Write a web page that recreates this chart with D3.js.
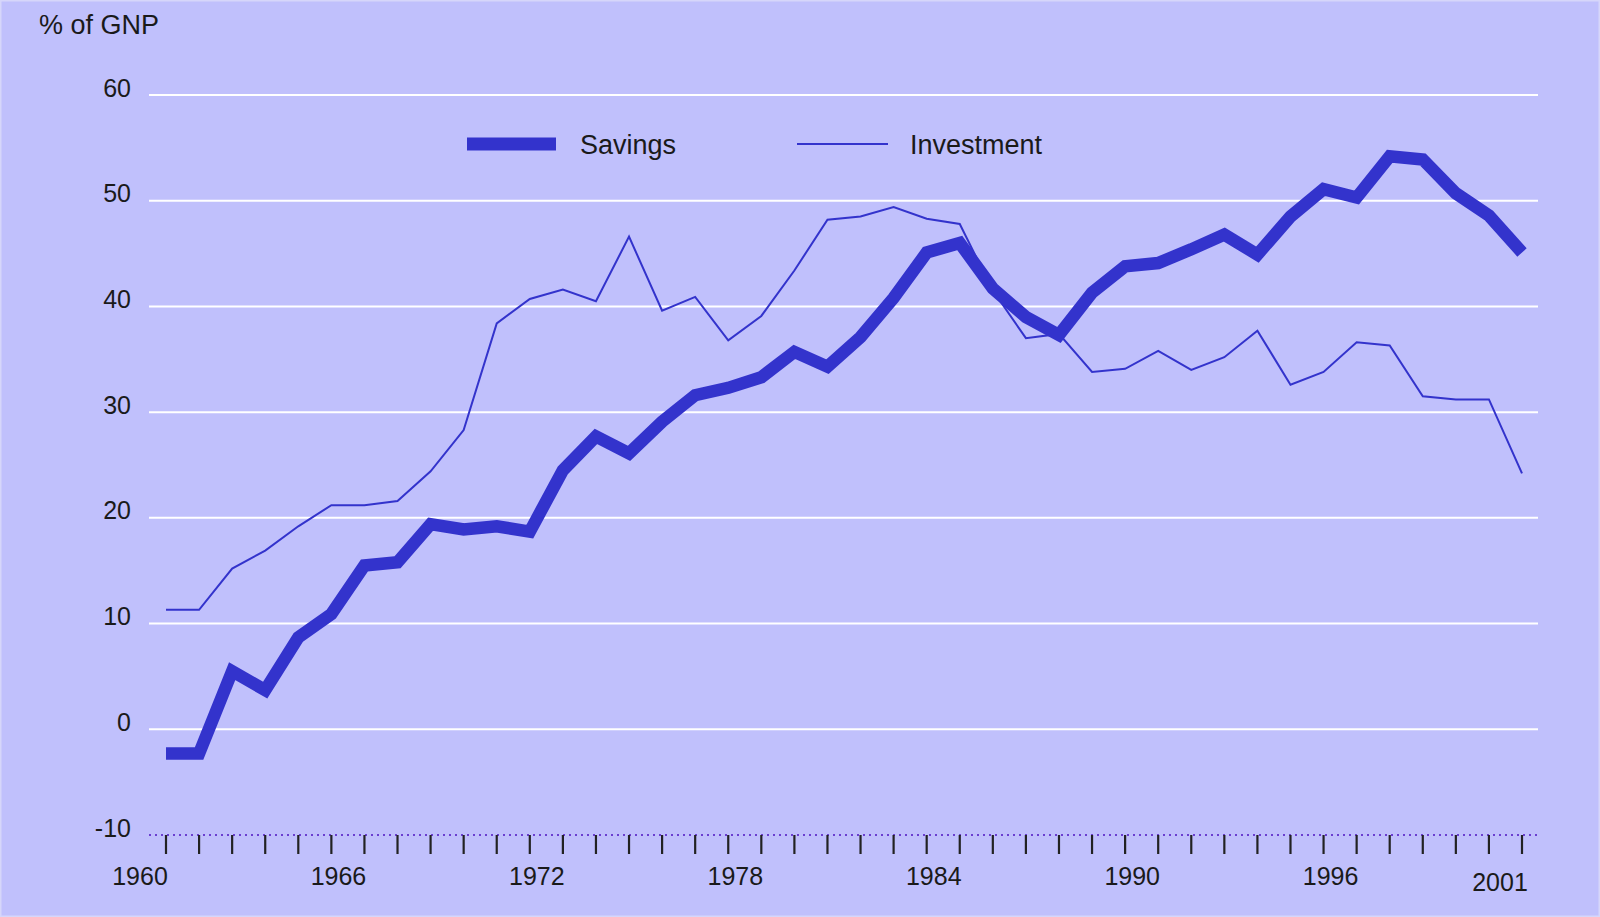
<!DOCTYPE html>
<html>
<head>
<meta charset="utf-8">
<script src="https://cdn.jsdelivr.net/npm/d3@7/dist/d3.min.js"></script>
<style>
  html, body { margin: 0; padding: 0; background: #C0C0FC; }
  svg { display: block; }
  text { font-family: "Liberation Sans", Arial, sans-serif; fill: #1a1a1a; }
</style>
</head>
<body>
<svg id="chart" width="1600" height="917"></svg>
<script>
// ---- data ----
const years = d3.range(1960, 2002);
const savings = [
  -2.3, -2.3, 5.5, 3.7, 8.7, 10.9, 15.5, 15.8, 19.4, 18.9,
  19.2, 18.7, 24.5, 27.7, 26.1, 29.1, 31.6, 32.3, 33.3, 35.7,
  34.3, 37.1, 40.8, 45.1, 46.0, 41.7, 39.0, 37.3, 41.3, 43.8,
  44.1, 45.4, 46.8, 44.9, 48.5, 51.1, 50.3, 54.2, 53.9, 50.7,
  48.6, 45.1
];
const investment = [
  11.3, 11.3, 15.2, 16.9, 19.2, 21.2, 21.2, 21.6, 24.4, 28.3,
  38.4, 40.7, 41.6, 40.5, 46.6, 39.6, 40.9, 36.8, 39.1, 43.4,
  48.2, 48.5, 49.4, 48.3, 47.8, 41.5, 37.0, 37.4, 33.8, 34.1,
  35.8, 34.0, 35.2, 37.7, 32.6, 33.8, 36.6, 36.3, 31.5, 31.2,
  31.2, 24.2
];
const yTicks = [-10, 0, 10, 20, 30, 40, 50, 60];
const xLabels = [1960, 1966, 1972, 1978, 1984, 1990, 1996, 2001];
const seriesNames = ["Savings", "Investment"];
const yTitle = "% of GNP";

// ---- layout ----
const W = 1600, H = 917;
const lineColor = "#3333CC";
const svg = d3.select("#chart");

svg.append("rect").attr("x", 0.5).attr("y", 0.5).attr("width", W - 1).attr("height", H - 1)
  .attr("fill", "#C0C0FC").attr("stroke", "#D6D6FA").attr("stroke-width", 2);

const x = d3.scaleLinear().domain([1960, 2001]).range([166, 1522]);
const y = d3.scaleLinear().domain([-10, 60]).range([835, 95]);
const gridX0 = 149, gridX1 = 1538;

// gridlines
svg.append("g").selectAll("line").data(yTicks.filter(d => d > -10)).join("line")
  .attr("x1", gridX0).attr("x2", gridX1)
  .attr("y1", d => y(d)).attr("y2", d => y(d))
  .attr("stroke", "#FFFFFF").attr("stroke-width", 2);

// y tick labels
svg.append("g").selectAll("text").data(yTicks).join("text")
  .attr("x", 131).attr("y", d => y(d) - 5)
  .attr("text-anchor", "end").attr("dominant-baseline", "middle")
  .attr("font-size", 25)
  .text(d => d);

// bottom dotted axis line
svg.append("line")
  .attr("x1", gridX0).attr("x2", gridX1)
  .attr("y1", y(-10)).attr("y2", y(-10))
  .attr("stroke", "#6A3FD0").attr("stroke-width", 2)
  .attr("stroke-dasharray", "2,4");

// year ticks
svg.append("g").selectAll("line").data(years).join("line")
  .attr("x1", d => x(d)).attr("x2", d => x(d))
  .attr("y1", y(-10)).attr("y2", y(-10) + 19)
  .attr("stroke", "#222222").attr("stroke-width", 2.2);

// year labels
svg.append("g").selectAll("text").data(xLabels).join("text")
  .attr("x", d => x(d) - (d === 2001 ? 22 : 26))
  .attr("y", d => d === 2001 ? 884 : 878)
  .attr("text-anchor", "middle").attr("dominant-baseline", "middle")
  .attr("font-size", 25)
  .text(d => d);

// title
svg.append("text").attr("x", 39).attr("y", 27)
  .attr("dominant-baseline", "middle").attr("font-size", 27)
  .text(yTitle);

// lines
const line = d3.line().x((d, i) => x(years[i])).y(d => y(d));
svg.append("path").datum(investment)
  .attr("d", line).attr("fill", "none")
  .attr("stroke", lineColor).attr("stroke-width", 2)
  .attr("stroke-linejoin", "miter");
svg.append("path").datum(savings)
  .attr("d", line).attr("fill", "none")
  .attr("stroke", lineColor).attr("stroke-width", 12.5)
  .attr("stroke-linejoin", "miter").attr("stroke-linecap", "butt");

// legend
const legend = svg.append("g");
const legItems = [
  {name: seriesNames[0], x0: 467, x1: 556, w: 13, tx: 580},
  {name: seriesNames[1], x0: 797, x1: 888, w: 2, tx: 910}
];
legItems.forEach(it => {
  legend.append("line").attr("x1", it.x0).attr("x2", it.x1)
    .attr("y1", 144).attr("y2", 144)
    .attr("stroke", lineColor).attr("stroke-width", it.w);
  legend.append("text").attr("x", it.tx).attr("y", 147)
    .attr("dominant-baseline", "middle").attr("font-size", 27)
    .text(it.name);
});
</script>
</body>
</html>
